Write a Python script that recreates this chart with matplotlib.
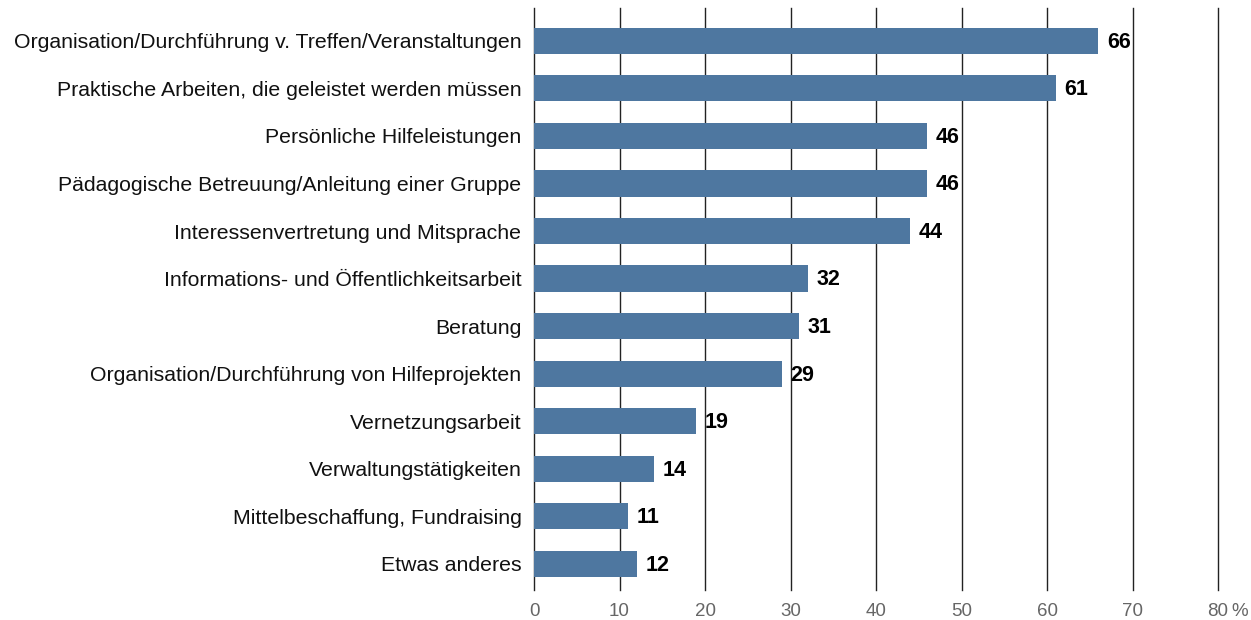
import matplotlib
matplotlib.use("Agg")
import matplotlib.pyplot as plt

categories = [
    "Organisation/Durchführung v. Treffen/Veranstaltungen",
    "Praktische Arbeiten, die geleistet werden müssen",
    "Persönliche Hilfeleistungen",
    "Pädagogische Betreuung/Anleitung einer Gruppe",
    "Interessenvertretung und Mitsprache",
    "Informations- und Öffentlichkeitsarbeit",
    "Beratung",
    "Organisation/Durchführung von Hilfeprojekten",
    "Vernetzungsarbeit",
    "Verwaltungstätigkeiten",
    "Mittelbeschaffung, Fundraising",
    "Etwas anderes",
]
values = [66, 61, 46, 46, 44, 32, 31, 29, 19, 14, 11, 12]
xticks = [0, 10, 20, 30, 40, 50, 60, 70, 80]
xtick_labels = ["0", "10", "20", "30", "40", "50", "60", "70", "80"]
unit = "%"

plt.rcParams["font.family"] = ["Liberation Sans", "DejaVu Sans"]

W, H = 1251, 620
fig = plt.figure(figsize=(W / 100, H / 100), dpi=100)
ax = fig.add_axes([534 / W, 1 - 590 / H, (1218 - 534) / W, (590 - 8) / H])

pos = list(range(len(categories)))
ax.barh(pos, values, height=0.55, color="#4e77a0", zorder=3)

for p, v in zip(pos, values):
    ax.text(v + 1.0, p + 0.03, str(v), va="center", ha="left",
            fontsize=15.5, fontweight="bold", color="#000000", zorder=4)

ax.set_xlim(0, 80)
ax.set_ylim(11.55, -0.69)
ax.set_yticks(pos)
ax.set_yticklabels(categories, fontsize=15.3, color="#111111")
ax.set_xticks(xticks)
ax.set_xticklabels(xtick_labels, fontsize=13.5, color="#666666")
ax.tick_params(axis="both", length=0)
ax.tick_params(axis="y", pad=9)
ax.tick_params(axis="x", pad=9)

# unit sign following the last tick label
fig.canvas.draw()
last = ax.get_xticklabels()[-1]
bb = last.get_window_extent()
fig.text((bb.x1 + 3) / W, (bb.y0 + bb.y1) / 2 / H, unit, ha="left", va="center",
         fontsize=13.5, color="#666666")

# vertical gridlines, drawn unclipped so the one at the right edge shows fully
for t in xticks:
    ax.axvline(t, color="#222222", linewidth=1, zorder=1, clip_on=False)
for s in ax.spines.values():
    s.set_visible(False)

fig.savefig("out.png", dpi=100)
